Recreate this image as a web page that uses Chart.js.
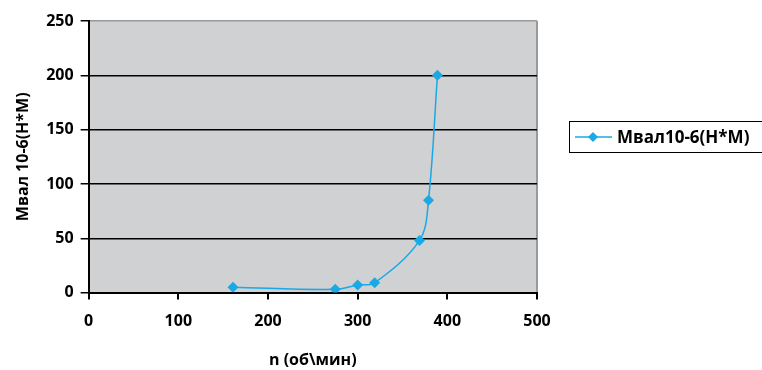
<!DOCTYPE html>
<html>
<head>
<meta charset="utf-8">
<script src="https://cdn.jsdelivr.net/npm/chart.js@4"></script>
<style>
  html, body { margin: 0; padding: 0; background: #fff; }
  #wrap { width: 762px; height: 370px; }
</style>
</head>
<body>
<div id="wrap"><canvas id="chart"></canvas></div>
<script>
// данные с графика
const seriesName = 'Мвал10-6(Н*М)';
const nValues = [161, 275, 300, 319, 369, 379, 389];
const mValues = [5, 3, 7, 9, 48, 85, 200];
const xTitle = 'n (об\\мин)';
const yTitle = 'Мвал 10-6(Н*М)';

const lineColor = '#19a9e6';
const font = { family: '"Open Sans", "Noto Sans", sans-serif', size: 16, weight: 'bold' };

// фон области построения
const plotBg = {
  id: 'plotBg',
  beforeDraw(chart) {
    const a = chart.chartArea, c = chart.ctx;
    c.save();
    c.fillStyle = '#d0d1d3';
    c.fillRect(a.left, a.top, a.right - a.left, a.bottom - a.top);
    c.restore();
  }
};

// легенда в рамке справа
const boxLegend = {
  id: 'boxLegend',
  afterDraw(chart) {
    const c = chart.ctx;
    const x = 569, y = 121, w = 200, h = 31;
    c.save();
    c.strokeStyle = '#000';
    c.lineWidth = 1;
    c.strokeRect(x + 0.5, y + 0.5, w, h);
    const my = y + h / 2 + 0.5;
    c.strokeStyle = lineColor;
    c.lineWidth = 1.5;
    c.beginPath();
    c.moveTo(x + 6, my);
    c.lineTo(x + 43, my);
    c.stroke();
    c.fillStyle = lineColor;
    c.beginPath();
    c.moveTo(x + 24, my - 5);
    c.lineTo(x + 29, my);
    c.lineTo(x + 24, my + 5);
    c.lineTo(x + 19, my);
    c.closePath();
    c.fill();
    c.fillStyle = '#000';
    c.font = 'bold 17px "Open Sans", "Noto Sans", sans-serif';
    c.textBaseline = 'middle';
    c.fillText(chart.data.datasets[0].label, x + 48, my + 1);
    c.restore();
  }
};

const ctx = document.getElementById('chart').getContext('2d');
new Chart(ctx, {
  type: 'line',
  data: {
    datasets: [{
      label: seriesName,
      data: nValues.map((n, i) => ({ x: n, y: mValues[i] })),
      borderColor: lineColor,
      backgroundColor: lineColor,
      borderWidth: 1.5,
      tension: 0.35,
      pointStyle: 'rectRot',
      pointRadius: 5.5,
      pointHoverRadius: 5.5,
      pointBorderWidth: 0
    }]
  },
  options: {
    responsive: true,
    maintainAspectRatio: false,
    animation: false,
    layout: { padding: { top: 21, right: 225, left: 10, bottom: 0 } },
    plugins: {
      legend: { display: false },
      tooltip: { enabled: false }
    },
    scales: {
      x: {
        type: 'linear',
        min: 0, max: 500,
        ticks: { stepSize: 100, color: '#000', font: font, padding: 12 },
        grid: {
          color: c => c.tick && c.tick.value === 500 ? '#9a9a9a' : 'rgba(0,0,0,0)',
          tickColor: '#000',
          tickLength: 7,
          lineWidth: 2
        },
        border: { color: '#000', width: 2 },
        title: { display: true, text: xTitle, color: '#000', font: font, padding: { top: 8, bottom: 0 } }
      },
      y: {
        min: 0, max: 250,
        ticks: { stepSize: 50, color: '#000', font: font, padding: 7 },
        grid: {
          color: c => c.tick && c.tick.value === 250 ? '#9a9a9a' : '#000',
          tickColor: '#000',
          tickLength: 8,
          lineWidth: 1.5
        },
        border: { color: '#000', width: 2 },
        title: { display: true, text: yTitle, color: '#000', font: font, padding: { bottom: 6 } }
      }
    }
  },
  plugins: [plotBg, boxLegend]
});
</script>
</body>
</html>
